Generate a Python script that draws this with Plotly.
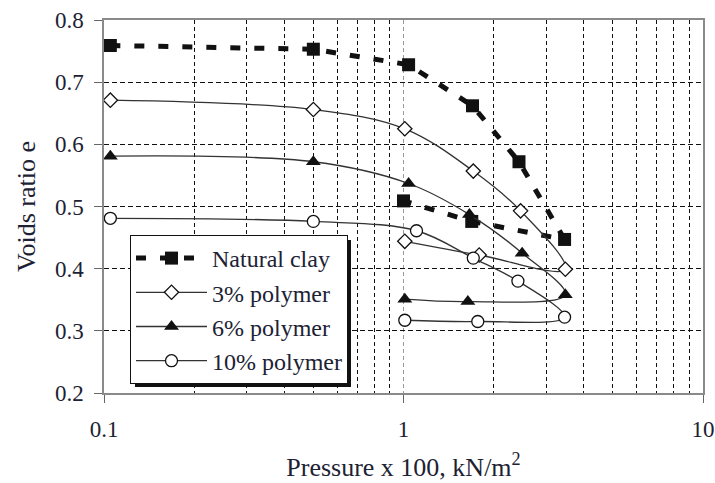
import plotly.graph_objects as go

# Oedometer results: pressure (x 100 kN/m2) vs voids ratio, loading then unloading
clay_p = [0.105, 0.5, 1.04, 1.70, 2.43, 3.45, 1.69, 1.0]
clay_e = [0.759, 0.753, 0.728, 0.662, 0.572, 0.447, 0.476, 0.509]

p3_p = [0.105, 0.5, 1.01, 1.71, 2.46, 3.47, 1.79, 1.01]
p3_e = [0.671, 0.656, 0.625, 0.557, 0.493, 0.399, 0.422, 0.444]

p6_p = [0.105, 0.5, 1.04, 1.66, 2.49, 3.47, 1.64, 1.01]
p6_e = [0.581, 0.572, 0.537, 0.487, 0.425, 0.358, 0.347, 0.351]

p10_p = [0.105, 0.5, 1.105, 1.71, 2.41, 3.45, 1.77, 1.01]
p10_e = [0.481, 0.476, 0.461, 0.417, 0.380, 0.322, 0.315, 0.317]

x_ticks = [0.1, 1, 10]
x_ticktext = ["0.1", "1", "10"]
x_minor = [0.2, 0.3, 0.4, 0.5, 0.6, 0.7, 0.8, 0.9, 2, 3, 4, 5, 6, 7, 8, 9]
y_ticks = [0.2, 0.3, 0.4, 0.5, 0.6, 0.7, 0.8]

FONT = "Liberation Serif, Times New Roman, serif"
TXT = "#1c2233"
LINE = "#333333"

# plot area in pixels
L, R, T, B = 104, 703, 20, 393


def px_x(px):
    return (px - L) / (R - L)


def px_y(py):
    return (B - py) / (B - T)


fig = go.Figure()

fig.add_trace(go.Scatter(
    x=clay_p, y=clay_e, name="Natural clay", mode="lines+markers",
    line=dict(color="#111111", width=5, dash="10px,14px"),
    marker=dict(symbol="square", size=13, color="#111111"),
    legendgroup="a",
))
fig.add_trace(go.Scatter(
    x=p3_p, y=p3_e, name="3% polymer", mode="lines+markers",
    line=dict(color=LINE, width=1.3, shape="spline", smoothing=1),
    marker=dict(symbol="diamond", size=11, color="white",
                line=dict(color="#111111", width=1.3)),
    legendgroup="b",
))
fig.add_trace(go.Scatter(
    x=p6_p, y=p6_e, name="6% polymer", mode="lines+markers",
    line=dict(color=LINE, width=1.3, shape="spline", smoothing=1),
    marker=dict(symbol="triangle-up", size=13, color="#111111"),
    legendgroup="c",
))
fig.add_trace(go.Scatter(
    x=p10_p, y=p10_e, name="10% polymer", mode="lines+markers",
    line=dict(color=LINE, width=1.3, shape="spline", smoothing=1),
    marker=dict(symbol="circle", size=12, color="white",
                line=dict(color="#111111", width=1.3)),
    legendgroup="d",
))

# drop shadow behind the legend box
fig.add_shape(type="rect", xref="paper", yref="paper", layer="above",
              x0=px_x(135), x1=px_x(351),
              y0=px_y(387), y1=px_y(240),
              fillcolor="#111111", line=dict(width=0))

fig.update_layout(
    width=715, height=483,
    margin=dict(l=L, r=715 - R, t=T, b=483 - B),
    paper_bgcolor="white", plot_bgcolor="white",
    font=dict(family=FONT, size=23, color=TXT),
    showlegend=True,
    legend=dict(
        x=px_x(130), y=px_y(235),
        xanchor="left", yanchor="top",
        bgcolor="white", bordercolor="#111111", borderwidth=1,
        font=dict(family=FONT, size=24, color=TXT),
        tracegroupgap=0, itemwidth=71,
    ),
    xaxis=dict(
        type="log", range=[-1, 1], automargin=False,
        tickmode="array", tickvals=x_ticks, ticktext=x_ticktext,
        ticks="outside", ticklen=8, tickcolor="#666666",
        showline=True, linecolor="#8a8a8a", linewidth=1.5, mirror=True,
        showgrid=True, gridcolor="#9a9a9a", griddash="4px,3px", gridwidth=1,
        minor=dict(tickmode="array", tickvals=x_minor, showgrid=True,
                   gridcolor="#111111", griddash="4px,3px", gridwidth=1,
                   ticks=""),
        zeroline=False,
        ticklabelstandoff=7,
        title=dict(text="Pressure x 100, kN/m<sup>2</sup>",
                   font=dict(family=FONT, size=26, color=TXT), standoff=16),
    ),
    yaxis=dict(
        range=[0.2, 0.8], automargin=False,
        tickmode="array", tickvals=y_ticks, tickformat=".1f",
        ticks="outside", ticklen=8, tickcolor="#666666",
        showline=True, linecolor="#8a8a8a", linewidth=1.5, mirror=True,
        showgrid=True, gridcolor="#111111", griddash="5px,3px", gridwidth=1,
        zeroline=False,
        ticklabelstandoff=6,
        title=dict(text="Voids ratio e",
                   font=dict(family=FONT, size=26, color=TXT), standoff=12),
    ),
)

fig.write_html("out.html")
